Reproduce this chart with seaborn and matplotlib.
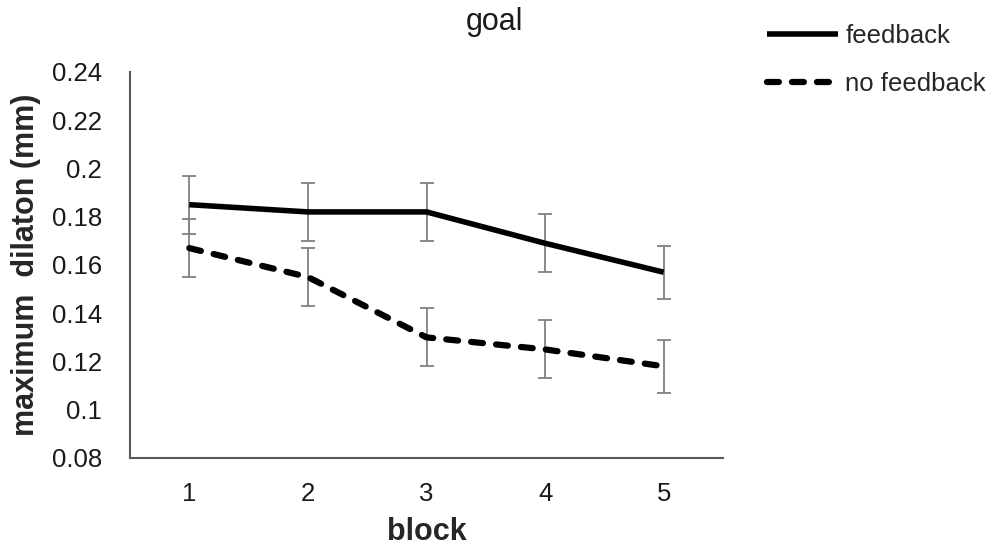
import numpy as np
import pandas as pd
import matplotlib
matplotlib.use("Agg")
import matplotlib.pyplot as plt
import seaborn as sns

# Mean maximum pupil dilation per block, with standard errors
blocks = [1, 2, 3, 4, 5]
feedback_mean = [0.185, 0.182, 0.182, 0.169, 0.157]
feedback_err = [0.012, 0.012, 0.012, 0.012, 0.011]
nofeedback_mean = [0.167, 0.155, 0.130, 0.125, 0.118]
nofeedback_err = [0.012, 0.012, 0.012, 0.012, 0.011]
series_names = ["feedback", "no feedback"]
y_ticks = [0.08, 0.10, 0.12, 0.14, 0.16, 0.18, 0.20, 0.22, 0.24]
y_tick_labels = ["0.08", "0.1", "0.12", "0.14", "0.16", "0.18", "0.2", "0.22", "0.24"]

df = pd.DataFrame({
    "block": blocks * 2,
    "dilation": feedback_mean + nofeedback_mean,
    "err": feedback_err + nofeedback_err,
    "condition": [series_names[0]] * 5 + [series_names[1]] * 5,
})

sns.set_theme(style="white")
plt.rcParams["font.family"] = ["Liberation Sans", "DejaVu Sans"]

fig = plt.figure(figsize=(9.97, 5.52), dpi=100)
ax = fig.add_axes([0.1304, 0.1703, 0.5948, 0.6993])

# error bars first so the lines sit on top
for name in series_names:
    sub = df[df["condition"] == name]
    ax.errorbar(sub["block"], sub["dilation"], yerr=sub["err"], fmt="none",
                ecolor="#808080", elinewidth=1.3, capsize=5, capthick=1.3, zorder=2)

dash_pattern = (1.9, 2.1)
sns.lineplot(data=df, x="block", y="dilation", style="condition",
             style_order=series_names,
             dashes={"feedback": "", "no feedback": dash_pattern},
             color="black", linewidth=4, markers=False, ax=ax, legend=True,
             zorder=3)

for line in ax.get_lines():
    line.set_dash_capstyle("round")
    line.set_solid_capstyle("butt")
    if line.get_linestyle() != "-":
        line.set_linewidth(4.5)

ax.set_xlim(0.5, 5.5)
ax.set_ylim(0.08, 0.24)
ax.set_xticks(blocks)
ax.set_xticklabels([str(b) for b in blocks])
ax.set_yticks(y_ticks)
ax.set_yticklabels(y_tick_labels)
ax.tick_params(axis="both", length=0, labelsize=18.5, colors="#1a1a1a")
ax.tick_params(axis="x", pad=17)
ax.tick_params(axis="y", pad=20)

for side in ["top", "right"]:
    ax.spines[side].set_visible(False)
for side in ["left", "bottom"]:
    ax.spines[side].set_color("#5a5a5a")
    ax.spines[side].set_linewidth(1.5)

ax.set_xlabel("block", fontsize=22, fontweight="bold", labelpad=8)
ax.set_ylabel("maximum  dilaton (mm)", fontsize=22, fontweight="bold", labelpad=8)
fig.text(494 / 997, 1 - 22 / 552, "goal", fontsize=22, ha="center", va="center",
         color="#1a1a1a")

handles, labels = ax.get_legend_handles_labels()
ax.get_legend().remove()
leg = fig.legend(handles, labels, loc="upper left",
                 bbox_to_anchor=(767 / 997, 1 - 24 / 552),
                 frameon=False, fontsize=18.5, handlelength=2.75,
                 handletextpad=0.3, labelspacing=0.95, borderpad=0,
                 borderaxespad=0)
for h in leg.get_lines():
    h.set_dash_capstyle("round")
    h.set_linewidth(4.5 if h.get_linestyle() != "-" else 4)

fig.savefig("out.png", dpi=100)
